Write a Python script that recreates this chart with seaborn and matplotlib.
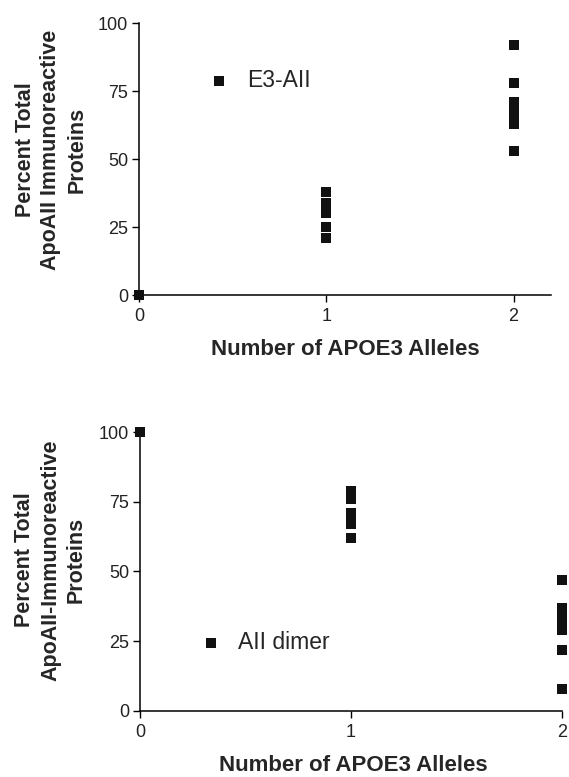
import matplotlib
matplotlib.use("Agg")
from matplotlib import pyplot as plt
import numpy as np
import pandas as pd
import seaborn as sns

# Top panel: E3-AII, percent of total ApoAII immunoreactive proteins
e3_x0 = [0]
e3_y0 = [0]
e3_x1 = [1, 1, 1, 1, 1, 1]
e3_y1 = [38, 34, 32, 30, 25, 21]
e3_x2 = [2, 2, 2, 2, 2, 2, 2, 2]
e3_y2 = [92, 78, 71, 69, 67, 65, 63, 53]

# Bottom panel: AII dimer
dim_x0 = [0]
dim_y0 = [100]
dim_x1 = [1, 1, 1, 1, 1, 1]
dim_y1 = [79, 76, 71, 69, 67, 62]
dim_x2 = [2, 2, 2, 2, 2, 2, 2, 2]
dim_y2 = [47, 37, 35, 33, 31, 29, 22, 8]

x_ticks = [0, 1, 2]
y_ticks = [0, 25, 50, 75, 100]

df_top = pd.DataFrame({'alleles': e3_x0 + e3_x1 + e3_x2,
                       'pct': e3_y0 + e3_y1 + e3_y2})
df_bot = pd.DataFrame({'alleles': dim_x0 + dim_x1 + dim_x2,
                       'pct': dim_y0 + dim_y1 + dim_y2})

sns.set_theme(style='ticks')
plt.rcParams['font.family'] = ['Liberation Sans', 'DejaVu Sans']
plt.rcParams['axes.linewidth'] = 1.1
plt.rcParams['xtick.major.size'] = 5.2
plt.rcParams['ytick.major.size'] = 5.2
plt.rcParams['xtick.major.width'] = 1.0
plt.rcParams['ytick.major.width'] = 1.0
plt.rcParams['xtick.color'] = 'black'
plt.rcParams['ytick.color'] = 'black'
plt.rcParams['axes.edgecolor'] = 'black'

fig = plt.figure(figsize=(5.69, 7.77), dpi=100)
ax1 = fig.add_axes([0.2443, 0.6203, 0.724, 0.350])
ax2 = fig.add_axes([0.246, 0.085, 0.7417, 0.359])


def draw_panel(ax, df, label, xmax, leg_xy, pad, ylabel_text, ylab_xy, xlab_xy):
    sns.scatterplot(data=df, x='alleles', y='pct', ax=ax, marker='s', s=46,
                    color='#111111', linewidth=0, label=label, clip_on=False, zorder=5)
    ax.set_xlim(0, xmax)
    ax.set_ylim(0, 100)
    ax.set_xticks(x_ticks)
    ax.set_yticks(y_ticks)
    ax.tick_params(axis='x', labelsize=13, pad=4.5)
    ax.tick_params(axis='y', labelsize=13, pad=2.5)
    for t in ax.get_xticklabels() + ax.get_yticklabels():
        t.set_color('#222222')
    sns.despine(ax=ax)
    ax.set_xlabel("Number of APOE3 Alleles", fontsize=16, fontweight='bold', va='center')
    ax.xaxis.set_label_coords(*xlab_xy)
    ax.set_ylabel(ylabel_text, fontsize=15.5, fontweight='bold', va='center',
                  multialignment='center', rotation_mode='anchor', linespacing=1.3)
    ax.yaxis.set_label_coords(*ylab_xy)
    ax.legend(loc='center left', bbox_to_anchor=leg_xy, frameon=False, borderpad=0,
              handlelength=1.0, handletextpad=pad, markerscale=1.0,
              fontsize=16.5, borderaxespad=0)


draw_panel(ax1, df_top, 'E3-AII', 2.2, (0.167, 0.79), 0.72,
           "Percent Total\nApoAII Immunoreactive\nProteins",
           (-0.214, 0.533), (0.5, -0.202))
draw_panel(ax2, df_bot, 'AII dimer', 2.0, (0.141, 0.245), 0.68,
           "Percent Total\nApoAII-Immunoreactive\nProteins",
           (-0.212, 0.541), (0.505, -0.194))

fig.savefig('out.png', dpi=100)
